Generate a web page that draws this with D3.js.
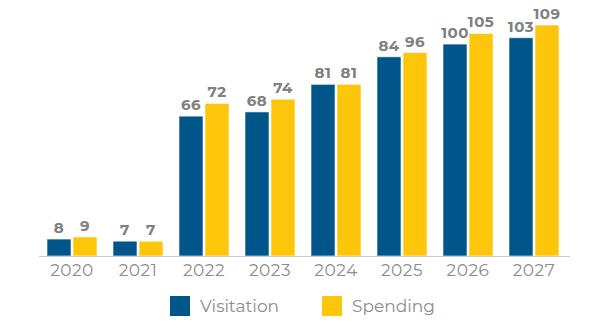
<!DOCTYPE html>
<html>
<head>
<meta charset="utf-8">
<script src="https://cdn.jsdelivr.net/npm/d3@7"></script>
<style>
  body { margin: 0; background: #fff; }
  text { font-family: "Montserrat", "Lato", "Open Sans", sans-serif; }
</style>
</head>
<body>
<svg id="chart" width="600" height="325"></svg>
<script>
var years = ["2020", "2021", "2022", "2023", "2024", "2025", "2026", "2027"];
// printed labels
var visitationLabels = [8, 7, 66, 68, 81, 84, 100, 103];
var spendingLabels = [9, 7, 72, 74, 81, 96, 105, 109];
// bar heights as drawn in the picture (2025 visitation bar is drawn taller than its label)
var visitation = [8, 7, 66, 68, 81, 94, 100, 103];
var spending = [9, 7, 72, 74, 81, 96, 105, 109];
var seriesNames = ["Visitation", "Spending"];
var seriesColors = ["#00558b", "#fdc60a"];

var svg = d3.select("#chart");
var baseline = 256;

var x = d3.scaleBand()
    .domain(years)
    .range([39, 567])
    .paddingInner(16 / 66)
    .paddingOuter(8 / 66);

var xs = d3.scaleBand()
    .domain(seriesNames)
    .range([0, x.bandwidth()])
    .paddingInner(2 / 26);

var y = d3.scaleLinear()
    .domain([0, 109])
    .range([baseline, 25]);

var rows = years.map(function(yr, i) {
    return {
        year: yr,
        values: [visitation[i], spending[i]],
        labels: [visitationLabels[i], spendingLabels[i]]
    };
});

var groups = svg.selectAll("g.year")
    .data(rows)
    .enter().append("g")
    .attr("class", "year")
    .attr("transform", function(d) { return "translate(" + x(d.year) + ",0)"; });

var cells = function(d) {
    return d.values.map(function(v, j) {
        return { v: v, label: d.labels[j], s: seriesNames[j], c: seriesColors[j] };
    });
};

groups.selectAll("rect")
    .data(cells)
    .enter().append("rect")
    .attr("x", function(d) { return xs(d.s); })
    .attr("y", function(d) { return y(d.v); })
    .attr("width", xs.bandwidth())
    .attr("height", function(d) { return baseline - y(d.v); })
    .style("fill", function(d) { return d.c; })
    .style("stroke", "#ffffff")
    .style("stroke-opacity", 0.6)
    .style("stroke-width", 1);

groups.selectAll("text.val")
    .data(cells)
    .enter().append("text")
    .attr("class", "val")
    .attr("x", function(d) { return xs(d.s) + xs.bandwidth() / 2; })
    .attr("y", function(d) { return y(d.v) - 6; })
    .attr("text-anchor", "middle")
    .style("font-size", "15px")
    .style("font-weight", "bold")
    .style("letter-spacing", "0.5px")
    .style("fill", "#808080")
    .text(function(d) { return d.label; });

// axis
var xAxis = svg.append("g")
    .attr("transform", "translate(0," + baseline + ")")
    .call(d3.axisBottom(x).tickSize(0).tickPadding(8));
xAxis.select(".domain").remove();
xAxis.selectAll("text")
    .style("font-size", "17px")
    .style("letter-spacing", "0.5px")
    .style("fill", "#8c8c8c")
    .style("font-family", "Montserrat, Lato, 'Open Sans', sans-serif");

svg.append("line")
    .attr("x1", 39)
    .attr("x2", 570)
    .attr("y1", baseline + 0.5)
    .attr("y2", baseline + 0.5)
    .style("stroke", "#cccccc")
    .style("stroke-width", 1);

// legend
var legendX = [170, 322];
var legend = svg.selectAll("g.legend")
    .data(seriesNames)
    .enter().append("g")
    .attr("class", "legend")
    .attr("transform", function(d, i) { return "translate(" + legendX[i] + ",296)"; });

legend.append("rect")
    .attr("width", 20)
    .attr("height", 20)
    .style("fill", function(d, i) { return seriesColors[i]; });

legend.append("text")
    .attr("x", 30)
    .attr("y", 16)
    .style("font-size", "17px")
    .style("fill", "#8c8c8c")
    .text(function(d) { return d; });
</script>
</body>
</html>
